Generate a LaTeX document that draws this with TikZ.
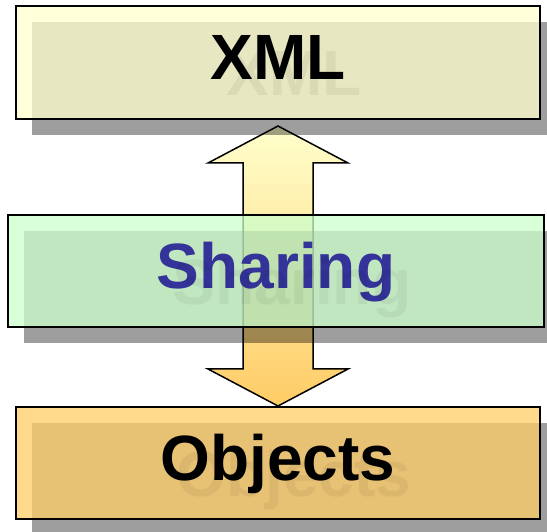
\documentclass[tikz,border=0pt]{standalone}
\usepackage{fontspec}
\setmainfont{Liberation Sans}
\usetikzlibrary{calc}
\usetikzlibrary{shadows}
\usetikzlibrary{backgrounds}
\definecolor{xmlfill}{HTML}{FFFFCC}
\definecolor{sharefill}{HTML}{CCFFCC}
\definecolor{objfill}{HTML}{FFCC66}
\definecolor{sharetext}{HTML}{333399}
\tikzset{
    bigfont/.style={font=\fontsize{64}{64}\selectfont\bfseries},
    layerbox/.style={draw=black, line width=1.4pt, inner sep=0pt, outer sep=0pt,
        minimum height=112pt, fill opacity=0.75, text opacity=1,
        text height=52pt, text depth=17pt, bigfont,
        drop shadow={shadow xshift=16pt, shadow yshift=-16pt, fill=black, opacity=0.38}},
    ghosttext/.style={inner sep=0pt, text height=52pt, text depth=17pt, bigfont,
        text=black, text opacity=0.05}
}

\begin{document}
\begin{tikzpicture}[x=1pt,y=1pt]
    \useasboundingbox (0,0) rectangle (547,531);

    % The three layers
    \node[layerbox, fill=xmlfill, minimum width=524pt, minimum height=113pt] (xml) at (278,468.5) {XML};
    \node[layerbox, fill=sharefill, minimum width=536pt, text=sharetext] (sharing) at (276,260) {Sharing};
    \node[layerbox, fill=objfill, minimum width=524pt] (objects) at (278,68) {Objects};

    % Faint text shadows
    \node[ghosttext] (xmlghost) at ($(xml.center)+(16,-16)$) {XML};
    \node[ghosttext] (sharingghost) at ($(sharing.center)+(16,-16)$) {Sharing};
    \node[ghosttext] (objectsghost) at ($(objects.center)+(16,-16)$) {Objects};

    % Double block arrow behind the layers
    \coordinate (up) at ($(xml.south)+(0,-7)$);
    \coordinate (dn) at ($(objects.north)+(0,1)$);
    \begin{scope}[on background layer]
        \shade[top color=xmlfill, bottom color=objfill, draw=black, line width=1.5pt]
            (up) -- ($(up)+(70,-37)$) -- ($(up)+(35,-37)$) -- ($(dn)+(35,37)$)
            -- ($(dn)+(70,37)$) -- (dn) -- ($(dn)+(-70,37)$) -- ($(dn)+(-35,37)$)
            -- ($(up)+(-35,-37)$) -- ($(up)+(-70,-37)$) -- cycle;
    \end{scope}
\end{tikzpicture}
\end{document}
